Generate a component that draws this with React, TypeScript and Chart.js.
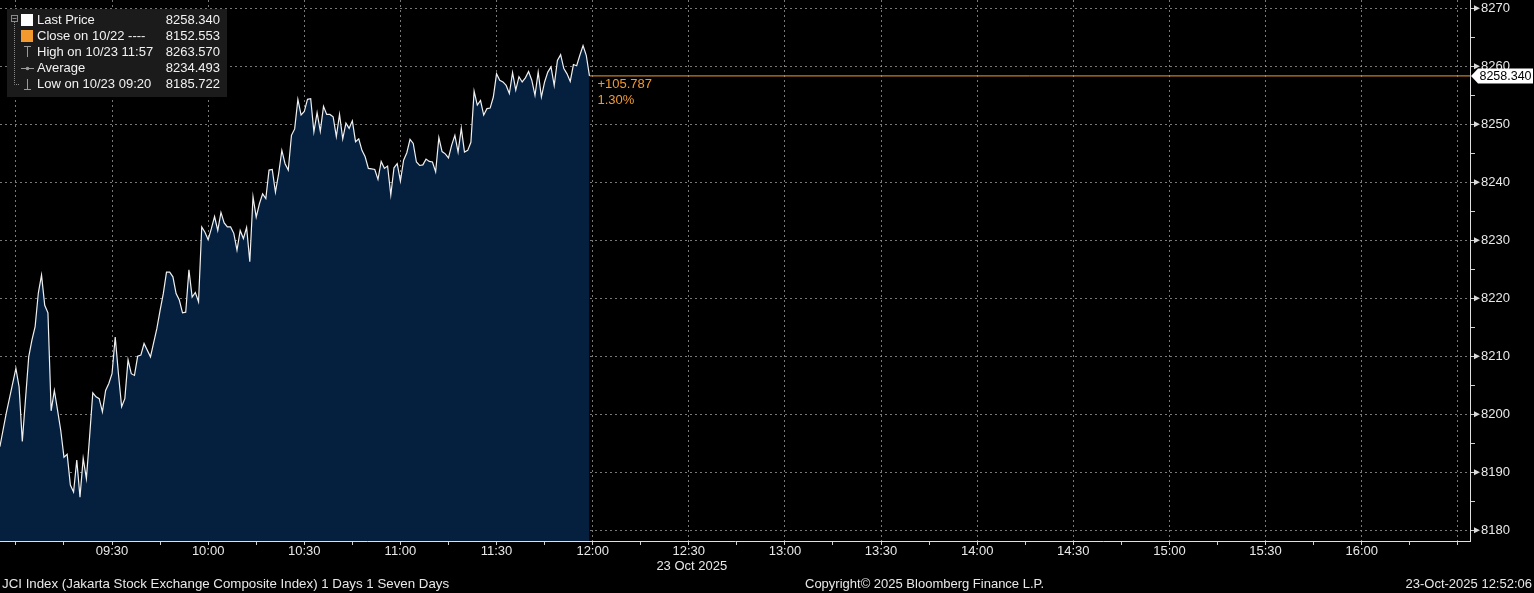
import React, { useEffect, useRef } from "react";
import { Chart, registerables } from "chart.js";

Chart.register(...registerables);

// ---- data ----
const times: string[] = [
  "08:55", "08:57", "09:00", "09:01", "09:02", "09:04",
  "09:05", "09:06", "09:07", "09:08", "09:09", "09:10", "09:11", "09:12", "09:13", "09:14",
  "09:15", "09:16", "09:17", "09:18", "09:19", "09:20", "09:21", "09:22", "09:23", "09:24",
  "09:25", "09:26", "09:27", "09:28", "09:29", "09:30", "09:31", "09:32", "09:33", "09:34",
  "09:35", "09:36", "09:37", "09:38", "09:39", "09:40",
  "09:42",
  "09:44", "09:45", "09:46", "09:47", "09:48", "09:49", "09:50", "09:51", "09:52", "09:53",
  "09:54", "09:55", "09:56", "09:57", "09:58", "09:59",
  "10:00", "10:01", "10:02", "10:03", "10:04", "10:05", "10:06", "10:07", "10:08", "10:09",
  "10:10", "10:11", "10:12", "10:13", "10:14", "10:15", "10:16", "10:17", "10:18", "10:19",
  "10:20", "10:21", "10:22", "10:23", "10:24", "10:25", "10:26", "10:27", "10:28", "10:29",
  "10:30", "10:31", "10:32", "10:33", "10:34", "10:35", "10:36", "10:37", "10:38", "10:39",
  "10:40", "10:41", "10:42", "10:43", "10:44", "10:45", "10:46", "10:47", "10:48", "10:49",
  "10:50", "10:51", "10:52", "10:53", "10:54", "10:55", "10:56", "10:57", "10:58", "10:59",
  "11:00", "11:01", "11:02", "11:03", "11:04", "11:05", "11:06", "11:07", "11:08", "11:09",
  "11:10", "11:11", "11:12", "11:13", "11:14", "11:15", "11:16", "11:17", "11:18", "11:19",
  "11:20", "11:21", "11:22", "11:23", "11:24", "11:25", "11:26", "11:27", "11:28", "11:29",
  "11:30", "11:31", "11:32", "11:33", "11:34", "11:35", "11:36", "11:37", "11:38", "11:39",
  "11:40", "11:41", "11:42", "11:43", "11:44", "11:45", "11:46", "11:47", "11:48", "11:49",
  "11:50", "11:51", "11:52", "11:53", "11:54", "11:55", "11:56", "11:57", "11:58", "11:59",
];

const prices: number[] = [
  8194.4, 8200.2, 8207.9, 8204.7, 8195.3, 8209.9,
  8212.8, 8215.1, 8220.9, 8224.0, 8218.8, 8217.5, 8200.6, 8204.1, 8200.7, 8197.2,
  8192.6, 8193.1, 8187.8, 8186.6, 8192.1, 8185.722, 8192.4, 8188.9, 8196.1, 8203.7,
  8203.0, 8202.7, 8200.4, 8204.1, 8205.3, 8207.0, 8213.3, 8207.0, 8201.3, 8202.7,
  8209.4, 8207.0, 8206.7, 8210.0, 8210.2, 8212.2,
  8209.9,
  8214.8, 8217.9, 8220.8, 8224.5, 8224.5, 8223.7, 8220.8, 8219.7, 8217.5, 8217.6,
  8224.9, 8220.2, 8221.0, 8219.4, 8232.3, 8231.4,
  8230.1, 8232.0, 8234.1, 8231.7, 8234.8, 8233.0, 8232.3, 8232.3, 8231.2, 8228.3,
  8231.7, 8230.3, 8232.2, 8226.3, 8237.5, 8234.0, 8236.3, 8238.0, 8237.2, 8242.1,
  8242.2, 8238.3, 8241.5, 8245.5, 8243.2, 8242.1, 8248.1, 8249.2, 8254.3, 8251.6,
  8252.2, 8254.3, 8254.4, 8248.7, 8252.0, 8248.8, 8253.1, 8251.7, 8251.7, 8251.3,
  8247.9, 8251.7, 8247.5, 8250.2, 8249.3, 8250.6, 8247.0, 8247.5, 8245.5, 8244.4,
  8242.4, 8242.3, 8242.2, 8240.5, 8243.6, 8242.4, 8242.8, 8237.8, 8242.5, 8243.2,
  8240.2, 8243.8, 8245.1, 8247.4, 8246.7, 8243.5, 8242.9, 8243.0, 8244.0, 8243.6,
  8243.5, 8241.8, 8247.7, 8245.3, 8244.9, 8244.2, 8246.4, 8248.1, 8245.2, 8249.3,
  8245.2, 8245.5, 8246.9, 8255.7, 8253.3, 8254.1, 8251.6, 8252.7, 8252.8, 8254.7,
  8258.7, 8257.6, 8257.3, 8256.7, 8255.3, 8258.9, 8255.9, 8258.2, 8257.3, 8258.0,
  8259.1, 8257.6, 8255.0, 8259.0, 8254.7, 8257.3, 8259.0, 8259.9, 8256.7, 8261.0,
  8262.0, 8259.6, 8258.7, 8257.4, 8260.3, 8260.1, 8261.9, 8263.57, 8261.9, 8258.34,
];

const lastPrice = 8258.34;
const changeText = ["+105.787", "1.30%"];

const legendLabels = ["Last Price", "Close on 10/22 ----", "High on 10/23 11:57", "Average", "Low on 10/23 09:20"];
const legendValues = ["8258.340", "8152.553", "8263.570", "8234.493", "8185.722"];

const yTickValues = [8180, 8185, 8190, 8195, 8200, 8205, 8210, 8215, 8220, 8225, 8230, 8235, 8240, 8245, 8250, 8255, 8260, 8265, 8270];
const xTickTimes = [
  "09:00", "09:15", "09:30", "09:45", "10:00", "10:15", "10:30", "10:45", "11:00", "11:15", "11:30", "11:45",
  "12:00", "12:15", "12:30", "12:45", "13:00", "13:15", "13:30", "13:45", "14:00", "14:15", "14:30", "14:45",
  "15:00", "15:15", "15:30", "15:45", "16:00", "16:15", "16:30",
];
const xLabelTimes = [
  "09:30", "10:00", "10:30", "11:00", "11:30", "12:00", "12:30", "13:00", "13:30", "14:00", "14:30", "15:00", "15:30", "16:00",
];
const dateLabel = "23 Oct 2025";
const dateLabelAt = "12:30";
const footerLeft = "JCI Index (Jakarta Stock Exchange Composite Index) 1 Days 1 Seven Days";
const footerCenter = "Copyright\u00a9 2025 Bloomberg Finance L.P.";
const footerRight = "23-Oct-2025 12:52:06";

// axis range (minutes after 09:00, index points)
const X_MIN = -4.96;
const X_MAX = 453.8;
const Y_MIN = 8178.15;
const Y_MAX = 8271.43;

const FONT = "'Liberation Sans', Arial, sans-serif";
const TXT = "#e8e8e8";
const GRID = "rgba(150,150,150,0.8)";
const ORANGE = "#f39a2e";
const FILL = "#04203e";

const toMin = (t: string) => {
  const [h, m] = t.split(":").map(Number);
  return h * 60 + m - 540;
};
const fmt = (v: number) => {
  const t = Math.round(v) + 540;
  const h = Math.floor(t / 60);
  const m = t % 60;
  return `${String(h).padStart(2, "0")}:${String(m).padStart(2, "0")}`;
};
const labelSet = new Set(xLabelTimes.map(toMin));

const overlay = {
  id: "overlay",
  afterDraw(chart: any) {
    const { ctx, chartArea, scales } = chart;
    const xs = scales.x;
    const ys = scales.y;
    ctx.save();

    // major tick triangles on right axis
    ctx.fillStyle = "#d8d8d8";
    for (const v of yTickValues) {
      if (v % 10 !== 0) continue;
      const py = ys.getPixelForValue(v);
      ctx.beginPath();
      ctx.moveTo(chartArea.right + 4, py - 3);
      ctx.lineTo(chartArea.right + 10, py);
      ctx.lineTo(chartArea.right + 4, py + 3);
      ctx.closePath();
      ctx.fill();
    }

    // last price box
    const py = ys.getPixelForValue(lastPrice);
    ctx.fillStyle = "#ffffff";
    ctx.beginPath();
    ctx.moveTo(chartArea.right + 1, py);
    ctx.lineTo(chartArea.right + 8, py - 7.5);
    ctx.lineTo(1533, py - 7.5);
    ctx.lineTo(1533, py + 7.5);
    ctx.lineTo(chartArea.right + 8, py + 7.5);
    ctx.closePath();
    ctx.fill();
    ctx.fillStyle = "#000";
    ctx.font = `12.5px ${FONT}`;
    ctx.textBaseline = "middle";
    ctx.textAlign = "center";
    ctx.fillText(lastPrice.toFixed(3), (chartArea.right + 8 + 1533) / 2, py + 0.5);

    // change annotation
    ctx.font = `13px ${FONT}`;
    const lx = xs.getPixelForValue(toMin(times[times.length - 1]));
    ctx.fillStyle = ORANGE;
    ctx.textAlign = "left";
    ctx.fillText(changeText[0], lx + 8, py + 9);
    ctx.fillText(changeText[1], lx + 8, py + 25);

    // date label + footer
    ctx.fillStyle = TXT;
    ctx.textAlign = "center";
    ctx.fillText(dateLabel, xs.getPixelForValue(toMin(dateLabelAt)) + 3, 566);
    ctx.textAlign = "left";
    ctx.font = `13.3px ${FONT}`;
    ctx.fillText(footerLeft, 2, 584);
    ctx.font = `13px ${FONT}`;
    ctx.fillText(footerCenter, 805, 584);
    ctx.textAlign = "right";
    ctx.fillText(footerRight, 1532, 584);

    // legend box
    ctx.fillStyle = "#1b1b1b";
    ctx.fillRect(7, 9, 220, 88);
    const rowY = (i: number) => 20 + 16 * i;
    // tree
    ctx.strokeStyle = "#8a8a8a";
    ctx.lineWidth = 1;
    ctx.strokeRect(11.5, 15.5, 6, 6);
    ctx.beginPath();
    ctx.moveTo(12.5, 18.5);
    ctx.lineTo(16.5, 18.5);
    ctx.stroke();
    ctx.setLineDash([1, 1]);
    ctx.beginPath();
    ctx.moveTo(14.5, 22);
    ctx.lineTo(14.5, rowY(4) + 0.5);
    ctx.lineTo(20, rowY(4) + 0.5);
    ctx.stroke();
    ctx.setLineDash([]);
    // icons
    ctx.fillStyle = "#ffffff";
    ctx.fillRect(21, rowY(0) - 6, 12, 12);
    ctx.fillStyle = ORANGE;
    ctx.fillRect(21, rowY(1) - 6, 12, 12);
    ctx.strokeStyle = "#9a9a9a";
    ctx.beginPath();
    ctx.moveTo(24, rowY(2) - 5.5);
    ctx.lineTo(31, rowY(2) - 5.5);
    ctx.moveTo(27.5, rowY(2) - 5.5);
    ctx.lineTo(27.5, rowY(2) + 5);
    ctx.moveTo(21, rowY(3) + 0.5);
    ctx.lineTo(34, rowY(3) + 0.5);
    ctx.moveTo(27.5, rowY(4) - 5);
    ctx.lineTo(27.5, rowY(4) + 5.5);
    ctx.moveTo(24, rowY(4) + 5.5);
    ctx.lineTo(31, rowY(4) + 5.5);
    ctx.stroke();
    ctx.fillStyle = "#9a9a9a";
    ctx.beginPath();
    ctx.arc(27.5, rowY(3) + 0.5, 1.8, 0, Math.PI * 2);
    ctx.fill();
    // text
    ctx.font = `13px ${FONT}`;
    ctx.textBaseline = "middle";
    legendLabels.forEach((lab, i) => {
      ctx.fillStyle = "#f2f2f2";
      ctx.textAlign = "left";
      ctx.fillText(lab, 37, rowY(i) + 0.5);
      ctx.textAlign = "right";
      ctx.fillText(legendValues[i], 220, rowY(i) + 0.5);
    });

    ctx.restore();
  },
};

export default function App() {
  const ref = useRef<HTMLCanvasElement | null>(null);

  useEffect(() => {
    document.body.style.margin = "0";
    document.body.style.background = "#000";
    const canvas = ref.current;
    if (!canvas) return;
    const lastMin = toMin(times[times.length - 1]);
    const chart = new Chart(canvas, {
      type: "line",
      data: {
        datasets: [
          {
            data: times.map((t, i) => ({ x: toMin(t), y: prices[i] })),
            borderColor: "#f0f0f0",
            borderWidth: 1.2,
            backgroundColor: FILL,
            fill: "start",
            pointRadius: 0,
            tension: 0,
          },
          {
            data: [
              { x: lastMin, y: lastPrice },
              { x: X_MAX, y: lastPrice },
            ],
            borderColor: ORANGE,
            borderWidth: 1,
            pointRadius: 0,
            fill: false,
          },
        ],
      },
      options: {
        responsive: false,
        animation: false,
        events: [],
        devicePixelRatio: 1,
        layout: { padding: 0 },
        plugins: { legend: { display: false }, tooltip: { enabled: false } },
        scales: {
          x: {
            type: "linear",
            min: X_MIN,
            max: X_MAX,
            afterBuildTicks: (s: any) => {
              s.ticks = xTickTimes.map((t) => ({ value: toMin(t) }));
            },
            afterFit: (s: any) => {
              s.height = 52;
              s.paddingLeft = 0;
              s.paddingRight = 0;
              s.paddingTop = 0;
              s.paddingBottom = 0;
            },
            ticks: {
              autoSkip: false,
              maxRotation: 0,
              minRotation: 0,
              padding: -1,
              color: TXT,
              font: { family: FONT, size: 13 },
              callback: (v: any) => (labelSet.has(Math.round(Number(v))) ? fmt(Number(v)) : ""),
            },
            grid: {
              color: (c: any) => (c.tick && c.tick.value % 30 === 0 ? GRID : "rgba(0,0,0,0)"),
              tickColor: "#d0d0d0",
              tickLength: 4,
              lineWidth: 1,
            },
            border: { display: true, color: "#e0e0e0", width: 1, dash: [2, 3] },
          },
          y: {
            type: "linear",
            position: "right",
            min: Y_MIN,
            max: Y_MAX,
            afterBuildTicks: (s: any) => {
              s.ticks = yTickValues.map((v) => ({ value: v }));
            },
            afterFit: (s: any) => {
              s.width = 64;
              s.paddingLeft = 0;
              s.paddingRight = 0;
              s.paddingTop = 0;
              s.paddingBottom = 0;
            },
            ticks: {
              autoSkip: false,
              padding: 6,
              color: TXT,
              font: { family: FONT, size: 13 },
              callback: (v: any) => (Number(v) % 10 === 0 ? String(v) : ""),
            },
            grid: {
              color: (c: any) => (c.tick && c.tick.value % 10 === 0 ? GRID : "rgba(0,0,0,0)"),
              tickColor: "#d0d0d0",
              tickLength: 5,
              lineWidth: 1,
            },
            border: { display: true, color: "#e0e0e0", width: 1, dash: [2, 3] },
          },
        },
      },
      plugins: [overlay],
    } as any);
    return () => chart.destroy();
  }, []);

  return (
    <div style={{ position: "fixed", left: 0, top: 0, width: 1534, height: 593, background: "#000" }}>
      <canvas ref={ref} width={1534} height={593} style={{ display: "block", width: 1534, height: 593 }} />
    </div>
  );
}
